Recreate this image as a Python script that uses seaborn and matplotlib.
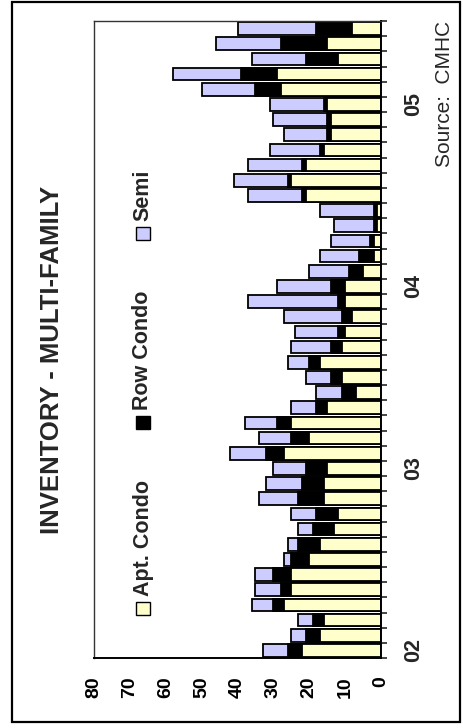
import numpy as np
import pandas as pd
import matplotlib
matplotlib.use("Agg")
import matplotlib.pyplot as plt
from matplotlib.patches import Rectangle
from matplotlib.ticker import FixedLocator
import seaborn as sns

# ---------------- data ----------------
years = ["02", "03", "04", "05"]
months = [f"20{y}-{m:02d}" for y in years for m in range(1, 13)][:42]
apt_condo = [22, 17, 16, 27, 25, 25, 20, 17, 13, 12, 16, 16, 15, 27, 20, 25, 15, 7, 11, 17, 11,
             10, 8, 10, 10, 5, 2, 2, 1, 1, 21, 25, 21, 16, 14, 14, 15, 28, 29, 12, 15, 8]
row_condo = [4, 4, 3, 3, 3, 5, 5, 6, 6, 6, 7, 6, 6, 5, 5, 4, 3, 4, 3, 3, 3,
             2, 3, 2, 4, 4, 4, 1, 1, 1, 1, 1, 1, 1, 1, 1, 1, 7, 10, 9, 13, 10]
semi = [7, 4, 4, 6, 7, 5, 2, 3, 4, 7, 11, 10, 9, 10, 9, 9, 7, 7, 7, 6, 11,
        12, 16, 25, 15, 11, 11, 11, 11, 15, 15, 15, 15, 14, 12, 15, 15, 15, 19, 15, 18, 22]
series_names = ["Apt. Condo", "Row Condo", "Semi"]
series_colors = ["#FFFFCC", "#000000", "#CCCCFF"]
value_ticks = [0, 10, 20, 30, 40, 50, 60, 70, 80]
year_label_pos = [0, 12, 24, 36]

# ---------------- style ----------------
sns.set_style("white")
plt.rcParams["font.family"] = ["Liberation Sans", "DejaVu Sans"]

W, H = 463, 728
fig = plt.figure(figsize=(W / 100, H / 100), dpi=100)

def fx(px):
    return px / W

def fy(py):
    return 1 - py / H

ax = fig.add_axes([fx(94), fy(658), fx(381) - fx(94), fy(21) - fy(658)])

df = pd.DataFrame({"month": months, "apt": apt_condo, "row": row_condo, "semi": semi})
df["c1"] = df["apt"]
df["c2"] = df["apt"] + df["row"]
df["c3"] = df["c2"] + df["semi"]

for col, color in zip(["c3", "c2", "c1"], series_colors[::-1]):
    sns.barplot(data=df, x=col, y="month", orient="h", color=color, saturation=1,
                edgecolor="black", linewidth=1.3, width=0.84, errorbar=None, ax=ax)

ax.set_xlim(80, 0)
ax.set_ylim(-0.5, len(months) - 0.5)
ax.set_xlabel("")
ax.set_ylabel("")

# value axis (bottom)
ax.set_xticks(value_ticks)
ax.set_xticklabels([str(v) for v in value_ticks], rotation=90, fontsize=14, fontweight="bold")
ax.tick_params(axis="x", direction="out", length=4, width=1.2, pad=9, colors="black")

# category axis (right)
ax.yaxis.tick_right()
ax.yaxis.set_major_locator(FixedLocator(np.arange(-0.5, len(months), 1)))
ax.yaxis.set_minor_locator(FixedLocator(year_label_pos))
ax.set_yticklabels([], minor=False)
ax.set_yticklabels(years, minor=True, rotation=90, fontsize=15.5, fontweight="bold", va="center")
ax.tick_params(axis="y", which="major", direction="out", length=4, width=1.2, right=True, left=False)
ax.tick_params(axis="y", which="minor", length=0, pad=16, right=True, left=False)

for side in ["left", "top"]:
    ax.spines[side].set_visible(True)
    ax.spines[side].set_color("#333333")
    ax.spines[side].set_linewidth(1.0)
for side in ["right", "bottom"]:
    ax.spines[side].set_visible(True)
    ax.spines[side].set_color("black")
    ax.spines[side].set_linewidth(1.4)

# title
fig.text(fx(52), fy(360), "INVENTORY - MULTI-FAMILY", rotation=90, ha="center", va="center",
         fontsize=18.5, fontweight="bold")

# legend (rotated)
legend_marker_top = [602, 416, 227]
for name, color, top in zip(series_names, series_colors, legend_marker_top):
    fig.patches.append(Rectangle((fx(136), fy(top + 13)), fx(14), fy(top) - fy(top + 13),
                                 transform=fig.transFigure, facecolor=color,
                                 edgecolor="black", linewidth=1.0))
    fig.text(fx(143), fy(top - 6), name, rotation=90, ha="center", va="bottom",
             fontsize=15.5, fontweight="bold")

# source
fig.text(fx(444), fy(94), "Source:  CMHC", rotation=90, ha="center", va="center", fontsize=15)

# outer frame
fig.patches.append(Rectangle((fx(12), fy(722)), fx(460) - fx(12), fy(1.5) - fy(722),
                             transform=fig.transFigure, fill=False, edgecolor="black",
                             linewidth=1.6))

fig.savefig("out.png", dpi=100)
